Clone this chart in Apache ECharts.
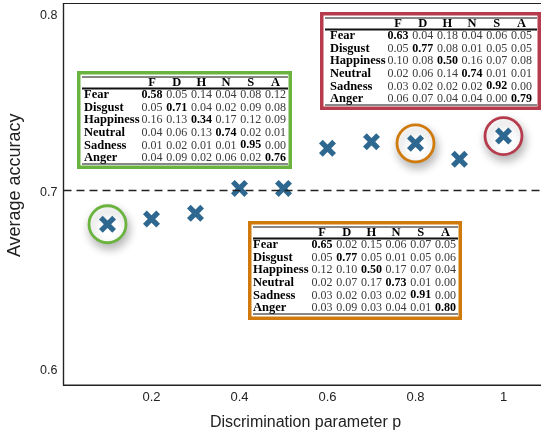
<!DOCTYPE html>
<html>
<head>
<meta charset="utf-8">
<script src="https://cdn.jsdelivr.net/npm/echarts@6/dist/echarts.min.js"></script>
<style>html,body{margin:0;padding:0;background:#fff;overflow:hidden}#chart{width:541px;height:433px}</style>
</head>
<body>
<div id="chart"></div>
<script>
// ---- data ----
const pValues = [0.1, 0.2, 0.3, 0.4, 0.5, 0.6, 0.7, 0.8, 0.9, 1.0];
const accuracy = [0.6806, 0.6835, 0.6868, 0.7008, 0.7008, 0.7234, 0.7271, 0.7262, 0.7172, 0.7303];
const baseline = 0.7;
const highlightIdx = [0, 7, 9];
const emotions = ['Fear', 'Disgust', 'Happiness', 'Neutral', 'Sadness', 'Anger'];
const emoShort = ['F', 'D', 'H', 'N', 'S', 'A'];
const confGreen = [
  [0.58, 0.05, 0.14, 0.04, 0.08, 0.12],
  [0.05, 0.71, 0.04, 0.02, 0.09, 0.08],
  [0.16, 0.13, 0.34, 0.17, 0.12, 0.09],
  [0.04, 0.06, 0.13, 0.74, 0.02, 0.01],
  [0.01, 0.02, 0.01, 0.01, 0.95, 0.00],
  [0.04, 0.09, 0.02, 0.06, 0.02, 0.76]
];
const confOrange = [
  [0.65, 0.02, 0.15, 0.06, 0.07, 0.05],
  [0.05, 0.77, 0.05, 0.01, 0.05, 0.06],
  [0.12, 0.10, 0.50, 0.17, 0.07, 0.04],
  [0.02, 0.07, 0.17, 0.73, 0.01, 0.00],
  [0.03, 0.02, 0.03, 0.02, 0.91, 0.00],
  [0.03, 0.09, 0.03, 0.04, 0.01, 0.80]
];
const confRed = [
  [0.63, 0.04, 0.18, 0.04, 0.06, 0.05],
  [0.05, 0.77, 0.08, 0.01, 0.05, 0.05],
  [0.10, 0.08, 0.50, 0.16, 0.07, 0.08],
  [0.02, 0.06, 0.14, 0.74, 0.01, 0.01],
  [0.03, 0.02, 0.02, 0.02, 0.92, 0.00],
  [0.06, 0.07, 0.04, 0.04, 0.00, 0.79]
];
const xTicks = [0.2, 0.4, 0.6, 0.8, 1];
const yTicks = [0.6, 0.7, 0.8];

// ---- layout / style ----
const ringColors = ['#6bb33f', '#d07a0d', '#b63b4d'];
const tableLayouts = [
  {m: confGreen, color: '#6bb33f', box: [77, 71, 215, 98], labelX: 84, col0: 152},
  {m: confRed, color: '#b63b4d', box: [320, 12, 221, 98], labelX: 330, col0: 398},
  {m: confOrange, color: '#d07a0d', box: [248, 221, 214, 99], labelX: 253, col0: 322}
];
const colStep = 24.7, rowStep = 12.6;
const serif = '"Liberation Serif", "Times New Roman", serif';

function tableGraphic(t) {
  const [bx, by, bw, bh] = t.box;
  const ch = [];
  ch.push({type: 'rect', shape: {x: 1.75, y: 1.75, width: bw - 3.5, height: bh - 3.5},
    style: {fill: '#fff', stroke: t.color, lineWidth: 3.5}});
  ch.push({type: 'line', shape: {x1: 5, y1: 6, x2: bw - 4, y2: 6}, style: {stroke: '#111', lineWidth: 1}});
  ch.push({type: 'line', shape: {x1: 5, y1: 17.5, x2: bw - 4, y2: 17.5}, style: {stroke: '#111', lineWidth: 1.8}});
  ch.push({type: 'line', shape: {x1: 5, y1: 93, x2: bw - 4, y2: 93}, style: {stroke: '#111', lineWidth: 1}});
  emoShort.forEach((h, j) => {
    ch.push({type: 'text', x: t.col0 - bx + j * colStep, y: 12,
      style: {text: h, font: 'bold 12.5px ' + serif, fill: '#000', align: 'center', verticalAlign: 'middle'}});
  });
  emotions.forEach((e, i) => {
    const yy = 24 + i * rowStep;
    ch.push({type: 'text', x: t.labelX - bx, y: yy,
      style: {text: e, font: 'bold 12.5px ' + serif, fill: '#000', align: 'left', verticalAlign: 'middle'}});
    t.m[i].forEach((v, j) => {
      const b = i === j;
      ch.push({type: 'text', x: t.col0 - bx + j * colStep, y: yy,
        style: {text: v.toFixed(2), font: (b ? 'bold ' : '') + '12px ' + serif,
          fill: b ? '#000' : '#3a3a3a', align: 'center', verticalAlign: 'middle'}});
    });
  });
  return {type: 'group', x: bx, y: by, z: 100, children: ch};
}

const crossPath = 'path://M0,3.5 L3.5,0 L8,4.5 L12.5,0 L16,3.5 L11.5,8 L16,12.5 L12.5,16 L8,11.5 L3.5,16 L0,12.5 L4.5,8 Z';
const sans = '"Liberation Sans", Arial, Helvetica, sans-serif';

const chart = echarts.init(document.getElementById('chart'), null, {renderer: 'canvas'});
chart.setOption({
  animation: false,
  backgroundColor: '#fff',
  grid: {left: 63.5, top: 3.5, height: 381.5, width: 484, containLabel: false, outerBoundsMode: 'none',
    show: true, borderColor: '#222', borderWidth: 1.2, backgroundColor: 'transparent'},
  xAxis: {
    type: 'value', min: 0, max: 1.1, interval: 0.2,
    name: 'Discrimination parameter p', nameLocation: 'middle', nameGap: 30,
    nameTextStyle: {fontFamily: sans, fontSize: 16, color: '#222'},
    axisLine: {show: true, lineStyle: {color: '#222', width: 1.2}},
    axisTick: {show: false},
    splitLine: {show: false},
    axisLabel: {fontFamily: sans, fontSize: 13, color: '#222', margin: 6,
      formatter: v => xTicks.some(t => Math.abs(t - v) < 1e-6) ? String(v) : ''}
  },
  yAxis: {
    type: 'value', min: 0.59, max: 0.805, interval: 0.01,
    name: 'Average accuracy', nameLocation: 'middle', nameGap: 39, nameRotate: 90,
    nameTextStyle: {fontFamily: sans, fontSize: 18, color: '#222', padding: [0, 0, 0, 18]},
    axisLine: {show: true, lineStyle: {color: '#222', width: 1.2}},
    axisTick: {show: false},
    splitLine: {show: false},
    axisLabel: {fontFamily: sans, fontSize: 12.5, color: '#222', margin: 6,
      verticalAlign: 'top', lineHeight: 6,
      formatter: v => {
        const t = yTicks.find(t => Math.abs(t - v) < 1e-6);
        return t !== undefined ? t.toFixed(1) : '';
      }}
  },
  series: [
    {
      type: 'scatter', z: 2, silent: true,
      symbol: 'circle', symbolSize: 37,
      data: highlightIdx.map((k, n) => ({
        value: [pValues[k], accuracy[k]],
        itemStyle: {color: '#fff', opacity: 1, borderColor: ringColors[n], borderWidth: 2.8,
          shadowBlur: 10, shadowColor: 'rgba(0,0,0,0.28)', shadowOffsetX: 2, shadowOffsetY: 5}
      }))
    },
    {
      type: 'scatter', z: 3, silent: true,
      symbol: crossPath, symbolSize: 17,
      itemStyle: {color: '#2e6890', opacity: 1},
      data: pValues.map((p, i) => [p, accuracy[i]]),
      markLine: {
        silent: true, symbol: 'none', label: {show: false},
        lineStyle: {color: '#222', width: 1.3, type: [8, 5]},
        data: [{yAxis: baseline}]
      }
    }
  ],
  graphic: tableLayouts.map(tableGraphic)
});
</script>
</body>
</html>
